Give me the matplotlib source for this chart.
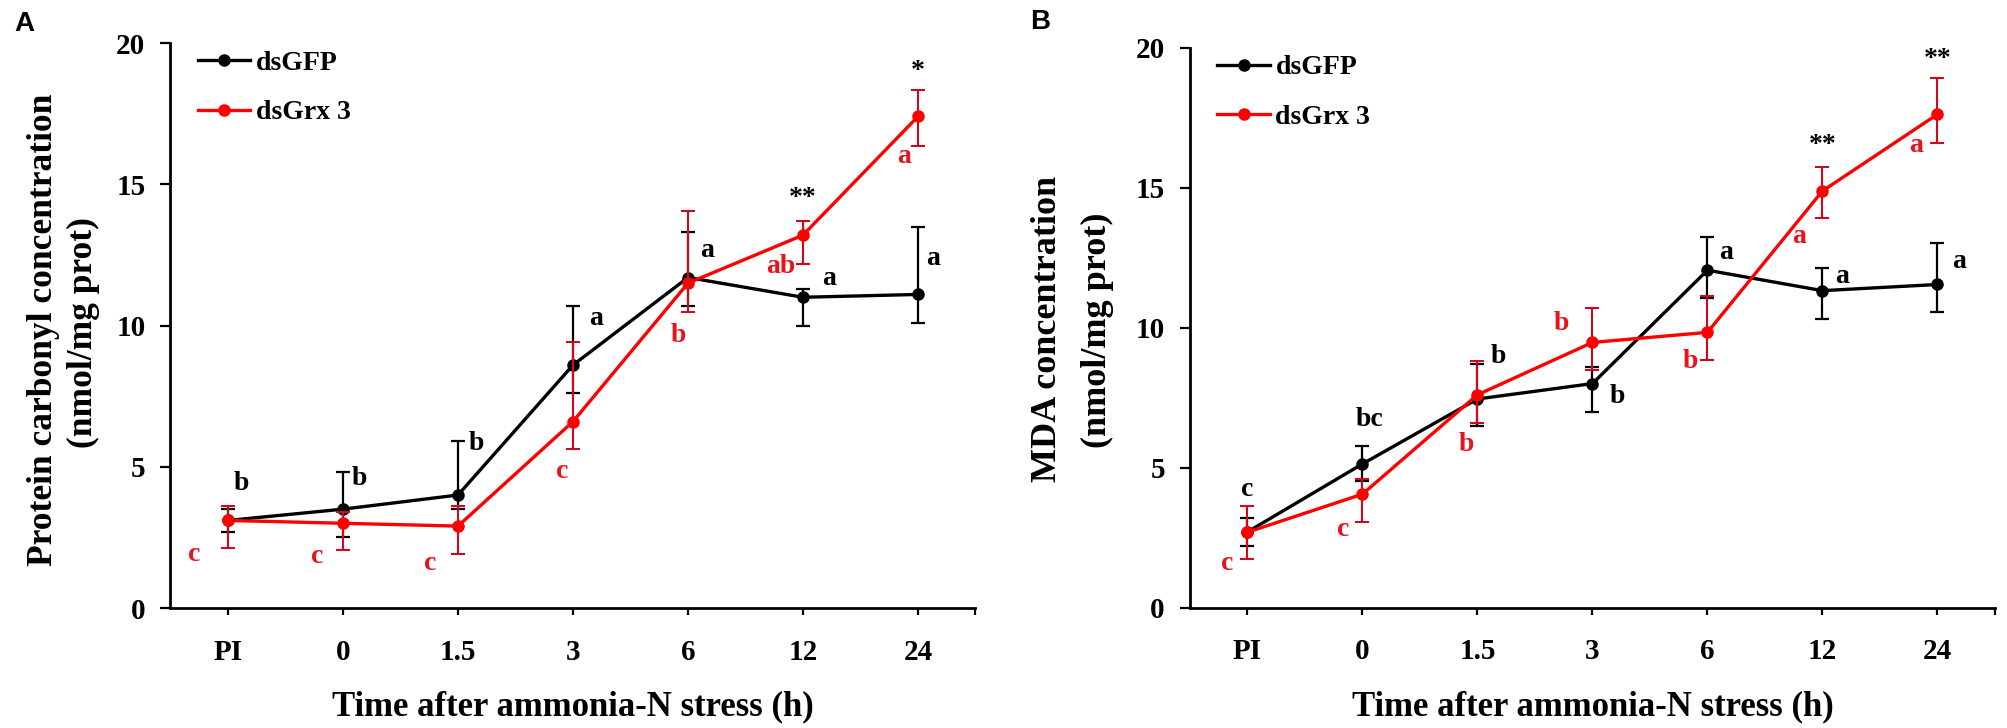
import numpy as np
import matplotlib
matplotlib.use("Agg")
import matplotlib.pyplot as plt

plt.rcParams['font.family'] = ['Liberation Serif', 'DejaVu Serif']
plt.rcParams['font.weight'] = 'bold'
plt.rcParams['axes.labelweight'] = 'bold'

# --- data ---
time_labels = ['PI', '0', '1.5', '3', '6', '12', '24']
series_names = ['dsGFP', 'dsGrx 3']

# Panel A: protein carbonyl
carbonyl_gfp = [3.1, 3.5, 4.0, 8.6, 11.7, 11.0, 11.1]
carbonyl_gfp_up = [0.4, 1.3, 1.9, 2.1, 1.6, 0.3, 2.4]
carbonyl_gfp_lo = [0.4, 1.0, 0.5, 1.0, 1.0, 1.0, 1.0]
carbonyl_grx = [3.1, 3.0, 2.9, 6.6, 11.5, 13.2, 17.4]
carbonyl_grx_up = [0.5, 0.4, 0.7, 2.8, 2.55, 0.5, 0.95]
carbonyl_grx_lo = [0.97, 0.95, 0.97, 0.98, 1.02, 1.03, 1.04]
carbonyl_gfp_letters = ['b', 'b', 'b', 'a', 'a', 'a', 'a']
carbonyl_grx_letters = ['c', 'c', 'c', 'c', 'b', 'ab', 'a']
carbonyl_stars = ['', '', '', '', '', '**', '*']

# Panel B: MDA
mda_gfp = [2.7, 5.13, 7.45, 8.0, 12.05, 11.32, 11.54]
mda_gfp_up = [0.5, 0.65, 1.25, 0.6, 1.2, 0.8, 1.5]
mda_gfp_lo = [0.5, 0.6, 0.96, 1.0, 1.0, 1.0, 1.0]
mda_grx = [2.69, 4.05, 7.6, 9.47, 9.83, 14.88, 17.62]
mda_grx_up = [0.94, 0.55, 1.22, 1.23, 1.3, 0.87, 1.28]
mda_grx_lo = [0.97, 0.98, 1.0, 1.0, 0.97, 0.96, 1.01]
mda_gfp_letters = ['c', 'bc', 'b', 'b', 'a', 'a', 'a']
mda_grx_letters = ['c', 'c', 'b', 'b', 'b', 'a', 'a']
mda_stars = ['', '', '', '', '', '**', '**']

# --- label placement (offsets from the points) ---
a_gfp_dx = [0.12, 0.14, 0.16, 0.2, 0.17, 0.23, 0.13]
a_gfp_dy = [1.3, 1.07, 1.84, 1.66, 0.95, 0.67, 1.28]
a_grx_dx = [-0.29, -0.22, -0.24, -0.09, -0.08, -0.19, -0.12]
a_grx_dy = [-1.2, -1.18, -1.31, -1.77, -1.84, -1.12, -1.42]
a_star_dy = [0, 0, 0, 0, 0, 1.3, 1.58]

b_gfp_dx = [0.0, 0.06, 0.18, 0.22, 0.16, 0.17, 0.19]
b_gfp_dy = [1.5, 1.57, 1.52, -0.46, 0.65, 0.52, 0.83]
b_grx_dx = [-0.18, -0.17, -0.1, -0.27, -0.15, -0.2, -0.19]
b_grx_dy = [-1.11, -1.25, -1.76, 0.66, -1.03, -1.61, -1.13]
b_star_dy = [0, 0, 0, 0, 0, 1.61, 1.97]

BLACK = '#000000'
RED = '#ff0000'
RED_ERR = '#cc0a1e'
RED_TXT = '#e8141c'
LETTER_SIZE = 20


def draw_panel(ax, gfp, gfp_lo, gfp_up, grx, grx_lo, grx_up,
               gfp_letters, grx_letters, stars,
               gfp_dx, gfp_dy, grx_dx, grx_dy, star_dy):
    x = np.arange(len(time_labels))
    ax.errorbar(x, gfp, yerr=[gfp_lo, gfp_up], fmt='none', ecolor=BLACK,
                elinewidth=1.6, capsize=5, capthick=1.6, zorder=2)
    l1, = ax.plot(x, gfp, '-o', color=BLACK, lw=2.4, ms=8, zorder=3,
                  label=series_names[0])
    ax.errorbar(x, grx, yerr=[grx_lo, grx_up], fmt='none', ecolor=RED_ERR,
                elinewidth=1.5, capsize=5, capthick=1.5, zorder=4)
    l2, = ax.plot(x, grx, '-o', color=RED, lw=2.4, ms=8, zorder=5,
                  label=series_names[1])

    for i in range(len(x)):
        ax.text(x[i] + gfp_dx[i], gfp[i] + gfp_dy[i], gfp_letters[i],
                color=BLACK, fontsize=LETTER_SIZE, ha='center', va='center')
        ax.text(x[i] + grx_dx[i], grx[i] + grx_dy[i], grx_letters[i],
                color=RED_TXT, fontsize=LETTER_SIZE, ha='center', va='center')
        if stars[i]:
            ax.text(x[i], grx[i] + star_dy[i], stars[i], color=BLACK,
                    fontsize=LETTER_SIZE, ha='center', va='center')

    ax.set_xlim(-0.5, len(x) - 0.5)
    ax.set_ylim(0, 20)
    ax.set_yticks([0, 5, 10, 15, 20])
    ax.set_xticks(x)
    ax.set_xticklabels(time_labels)
    ax.set_xticks([len(x) - 0.5], minor=True)
    for side in ['top', 'right']:
        ax.spines[side].set_visible(False)
    for side in ['left', 'bottom']:
        ax.spines[side].set_linewidth(2)
    ax.tick_params(axis='y', which='major', length=7, width=1.6,
                   labelsize=21, pad=11)
    ax.tick_params(axis='x', which='both', length=5, width=1.6,
                   labelsize=21, pad=17)
    ax.set_xlabel('Time after ammonia-N stress (h)', fontsize=25,
                  fontweight='bold', labelpad=18)

    ax.legend(handles=[l1, l2], loc='upper left', bbox_to_anchor=(0.02, 1.007),
              frameon=False, fontsize=20, handlelength=1.9,
              handletextpad=0.2, labelspacing=0.87, borderaxespad=0)


fig = plt.figure(figsize=(20.08, 7.28), dpi=100)
ax_a = fig.add_axes([0.0849, 0.1648, 0.4009, 0.7761])
ax_b = fig.add_axes([0.5926, 0.1655, 0.4009, 0.769])

draw_panel(ax_a, carbonyl_gfp, carbonyl_gfp_lo, carbonyl_gfp_up,
           carbonyl_grx, carbonyl_grx_lo, carbonyl_grx_up,
           carbonyl_gfp_letters, carbonyl_grx_letters, carbonyl_stars,
           a_gfp_dx, a_gfp_dy, a_grx_dx, a_grx_dy, a_star_dy)
draw_panel(ax_b, mda_gfp, mda_gfp_lo, mda_gfp_up,
           mda_grx, mda_grx_lo, mda_grx_up,
           mda_gfp_letters, mda_grx_letters, mda_stars,
           b_gfp_dx, b_gfp_dy, b_grx_dx, b_grx_dy, b_star_dy)

# y axis titles (two lines each)
fig.text(44 / 2008, 1 - 330 / 728, 'Protein carbonyl concentration',
         rotation=90, ha='center', va='center', fontsize=25.5)
fig.text(83 / 2008, 1 - 333 / 728, '(nmol/mg prot)',
         rotation=90, ha='center', va='center', fontsize=25.5)
fig.text(1048 / 2008, 1 - 329 / 728, 'MDA concentration',
         rotation=90, ha='center', va='center', fontsize=26)
fig.text(1097 / 2008, 1 - 330 / 728, '(nmol/mg prot)',
         rotation=90, ha='center', va='center', fontsize=26)

# panel letters
fig.text(24 / 2008, 1 - 24 / 728, 'A', fontsize=20, fontweight='bold',
         family=['Liberation Sans', 'DejaVu Sans'], ha='center', va='center')
fig.text(1040 / 2008, 1 - 22 / 728, 'B', fontsize=20, fontweight='bold',
         family=['Liberation Sans', 'DejaVu Sans'], ha='center', va='center')

fig.savefig('out.png', dpi=100, facecolor='white')
